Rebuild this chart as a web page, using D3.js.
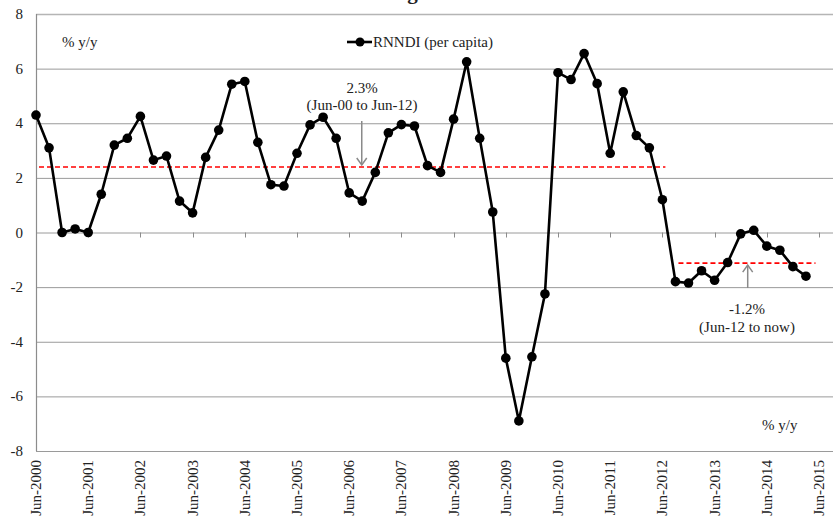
<!DOCTYPE html>
<html>
<head>
<meta charset="utf-8">
<script src="https://cdn.jsdelivr.net/npm/d3@7"></script>
<style>
  html, body { margin: 0; padding: 0; background: #fff; }
  svg { display: block; }
  text { font-family: "Liberation Serif", "DejaVu Serif", serif; fill: #222; }
</style>
</head>
<body>
<svg id="chart" width="833" height="517"></svg>
<script>
// ---- Data (quarterly, Jun-2000 to Mar-2015), % y/y ----
const seriesName = "RNNDI (per capita)";
const rnndi = [
  4.3, 3.1, 0.0, 0.13, 0.0, 1.4, 3.2, 3.45,
  4.25, 2.65, 2.8, 1.15, 0.72, 2.75, 3.75, 5.43,
  5.53, 3.3, 1.75, 1.7, 2.9, 3.94, 4.22, 3.45,
  1.45, 1.15, 2.2, 3.65, 3.95, 3.9, 2.45, 2.2,
  4.15, 6.25, 3.45, 0.75, -4.6, -6.9, -4.55, -2.25,
  5.85, 5.6, 6.55, 5.45, 2.9, 5.15, 3.55, 3.1,
  1.2, -1.8, -1.85, -1.4, -1.75, -1.1, -0.05, 0.08,
  -0.5, -0.65, -1.25, -1.6
];
const xTickLabels = ["Jun-2000","Jun-2001","Jun-2002","Jun-2003","Jun-2004","Jun-2005",
  "Jun-2006","Jun-2007","Jun-2008","Jun-2009","Jun-2010","Jun-2011","Jun-2012",
  "Jun-2013","Jun-2014","Jun-2015"];
const yTicks = [-8, -6, -4, -2, 0, 2, 4, 6, 8];
// averages: [startQuarterIndex, endQuarterIndex, value]
const avgPre = { from: 0, to: 48, value: 2.4, label1: "2.3%", label2: "(Jun-00 to Jun-12)" };
const avgPost = { from: 49, to: 59.5, value: -1.12, label1: "-1.2%", label2: "(Jun-12 to now)" };
const unitLabel = "% y/y";
const titleText = "Income growth";

// ---- Layout ----
const svg = d3.select("#chart");
const x = d3.scaleLinear().domain([0, 60]).range([36, 819]);
const y = d3.scaleLinear().domain([-8, 8]).range([451, 14]);
const fs = "15px";

// title (mostly cropped above the frame, as in the reference)
const title = svg.append("text")
  .attr("y", -1)
  .style("font-size", "21px").style("font-weight", "bold")
  .text(titleText);
{
  const tmp = svg.append("text").style("font-size", "21px").style("font-weight", "bold").text("Income ");
  const w = tmp.node().getComputedTextLength();
  tmp.remove();
  title.attr("x", 402 - w);
}

// gridlines
svg.append("g").selectAll("line").data(yTicks).join("line")
  .attr("x1", 36).attr("x2", 833)
  .attr("y1", d => y(d) + 0.5).attr("y2", d => y(d) + 0.5)
  .attr("stroke", d => d === 8 ? "#b5b5b5" : "#9a9a9a")
  .attr("stroke-width", d => d === 8 ? 1.6 : 1);

// y axis line
svg.append("line")
  .attr("x1", 36.5).attr("x2", 36.5).attr("y1", y(8)).attr("y2", y(-8))
  .attr("stroke", "#8c8c8c").attr("stroke-width", 1.2);

// y tick labels
svg.append("g").selectAll("text").data(yTicks).join("text")
  .attr("x", 23).attr("y", d => y(d) + 5)
  .attr("text-anchor", "end")
  .style("font-size", fs)
  .text(d => d);

// x axis ticks at y=0
const xTickIdx = xTickLabels.map((_, i) => i * 4);
svg.append("g").selectAll("line").data(xTickIdx).join("line")
  .attr("x1", d => Math.round(x(d)) + 0.5).attr("x2", d => Math.round(x(d)) + 0.5)
  .attr("y1", y(0)).attr("y2", y(0) + 5)
  .attr("stroke", "#8c8c8c").attr("stroke-width", 1);

// x tick labels (rotated)
svg.append("g").selectAll("text").data(xTickLabels).join("text")
  .attr("transform", (d, i) => `translate(${x(i * 4) + 5},460) rotate(-90)`)
  .attr("text-anchor", "end")
  .style("font-size", fs)
  .text(d => d);

// average dashed lines
[avgPre, avgPost].forEach(a => {
  svg.append("line")
    .attr("x1", x(a.from) + 3).attr("x2", x(a.to) + 3)
    .attr("y1", y(a.value)).attr("y2", y(a.value))
    .attr("stroke", "#ff0000").attr("stroke-width", 1.6)
    .attr("stroke-dasharray", "5,3");
});

// series line
const line = d3.line().x((d, i) => x(i)).y(d => y(d));
svg.append("path").datum(rnndi)
  .attr("d", line).attr("fill", "none")
  .attr("stroke", "#000").attr("stroke-width", 2.6).attr("stroke-linejoin", "round");
svg.append("g").selectAll("circle").data(rnndi).join("circle")
  .attr("cx", (d, i) => x(i)).attr("cy", d => y(d)).attr("r", 4.8)
  .attr("fill", "#000");

// annotations: arrows
const arrowColor = "#8a8a8a";
function arrow(xp, y1, y2) {
  svg.append("line").attr("x1", xp).attr("x2", xp).attr("y1", y1).attr("y2", y2)
    .attr("stroke", arrowColor).attr("stroke-width", 1.5);
  const dir = y2 > y1 ? -1 : 1;
  svg.append("path")
    .attr("d", `M${xp - 5},${y2 + dir * 7} L${xp},${y2} L${xp + 5},${y2 + dir * 7}`)
    .attr("fill", "none").attr("stroke", arrowColor).attr("stroke-width", 1.5);
}
arrow(x(25) - 0.5, 121, y(avgPre.value) - 2);
arrow(x(54) + 7, 288, y(avgPost.value) + 2);

// annotation texts
const ann = svg.append("g").style("font-size", fs).attr("text-anchor", "middle");
ann.append("text").attr("x", 362).attr("y", 93).text(avgPre.label1);
ann.append("text").attr("x", 362).attr("y", 110).text(avgPre.label2);
ann.append("text").attr("x", 747).attr("y", 314).text(avgPost.label1);
ann.append("text").attr("x", 747).attr("y", 332).text(avgPost.label2);

// unit labels
svg.append("text").attr("x", 62).attr("y", 47).style("font-size", fs).text(unitLabel);
svg.append("text").attr("x", 762).attr("y", 430).style("font-size", fs).text(unitLabel);

// legend
const lg = svg.append("g");
lg.append("line").attr("x1", 347).attr("x2", 372).attr("y1", 42).attr("y2", 42)
  .attr("stroke", "#000").attr("stroke-width", 2.6);
lg.append("circle").attr("cx", 360).attr("cy", 42).attr("r", 4.5).attr("fill", "#000");
lg.append("text").attr("x", 373).attr("y", 47).style("font-size", fs).text(seriesName);
</script>
</body>
</html>
